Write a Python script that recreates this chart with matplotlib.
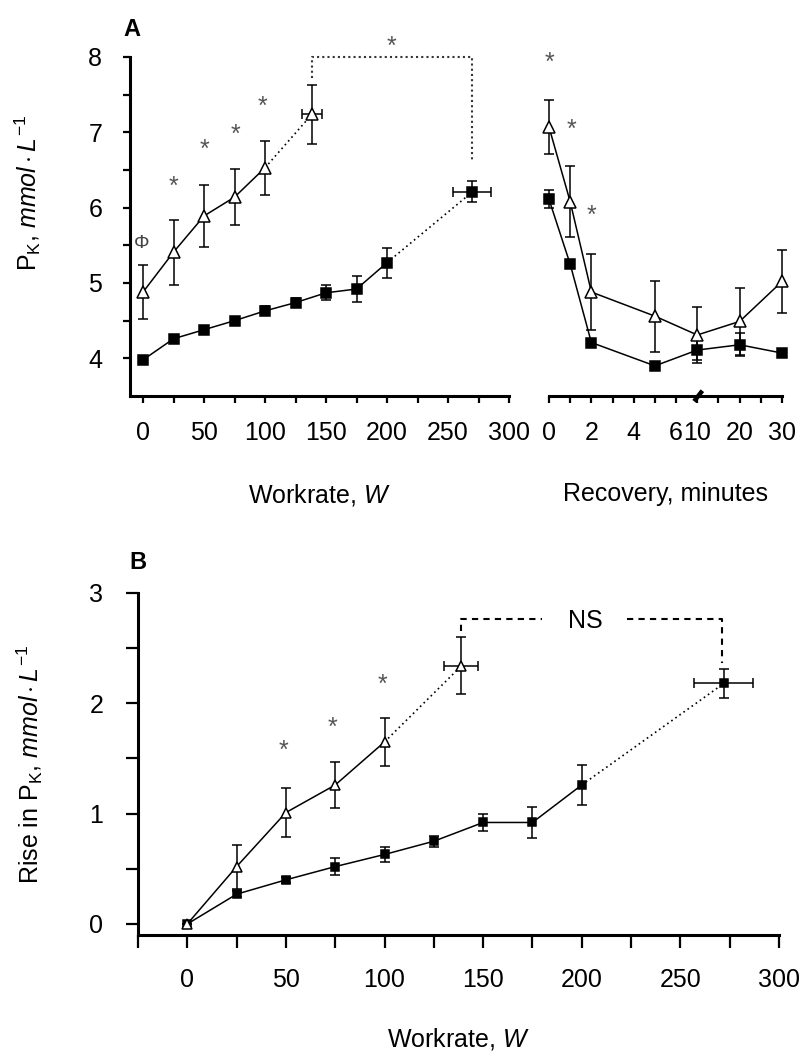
import numpy as np
import matplotlib
matplotlib.use("Agg")
import matplotlib.pyplot as plt
from matplotlib.ticker import FixedLocator, NullFormatter

plt.rcParams['font.family'] = ['Liberation Sans', 'DejaVu Sans']
plt.rcParams['mathtext.fontset'] = 'custom'
plt.rcParams['mathtext.rm'] = 'Liberation Sans'
plt.rcParams['mathtext.it'] = 'Liberation Sans:italic'
plt.rcParams['mathtext.bf'] = 'Liberation Sans:bold'

# ---- panel A, exercise ----
work_tri = [0, 25, 50, 75, 100]
pk_tri = [4.88, 5.41, 5.89, 6.14, 6.53]
pk_tri_err = [0.36, 0.43, 0.41, 0.37, 0.36]
peak_tri = (138.5, 8.6, 7.24, 0.39)       # W, W err, PK, PK err

work_sq = [0, 25, 50, 75, 100, 125, 150, 175, 200]
pk_sq = [3.98, 4.26, 4.38, 4.50, 4.63, 4.74, 4.87, 4.92, 5.27]
pk_sq_err = [0.03, 0.04, 0.04, 0.05, 0.06, 0.06, 0.10, 0.17, 0.20]
peak_sq = (270, 15.5, 6.21, 0.14)

stars_A = [(25, 6.28), (50, 6.77), (76, 6.97), (98, 7.34)]

# ---- panel A, recovery ----
rec_t = [0, 1, 2, 5, 10, 20, 30]
rec_tri = [7.07, 6.08, 4.88, 4.56, 4.31, 4.49, 5.02]
rec_tri_err = [0.36, 0.47, 0.50, 0.47, 0.37, 0.45, 0.42]
rec_sq = [6.11, 5.25, 4.21, 3.90, 4.11, 4.18, 4.07]
rec_sq_err = [0.12, 0.05, 0.04, 0.04, 0.13, 0.15, 0.04]
stars_rec = [(0, 7.92), (1.05, 7.03), (2.0, 5.89)]
rec_ticks = [0, 1, 2, 3, 4, 5, 6, 10, 15, 20, 25, 30]
rec_labels = [0, 2, 4, 6, 10, 20, 30]

# ---- panel B ----
rise_tri = [0, 0.52, 1.01, 1.26, 1.65]
rise_tri_err = [0, 0.20, 0.22, 0.21, 0.22]
peak_tri_B = (139, 8.6, 2.34, 0.26)
rise_sq = [0, 0.27, 0.40, 0.52, 0.63, 0.75, 0.92, 0.92, 1.26]
rise_sq_err = [0, 0.03, 0.03, 0.08, 0.07, 0.05, 0.08, 0.14, 0.18]
peak_sq_B = (272, 15, 2.18, 0.13)
stars_B = [(49, 1.57), (73.5, 1.78), (99, 2.17)]

FS = 18
LW = 1.1


def fwd(t):
    t = np.asarray(t, float)
    return np.where(t <= 6, t, np.where(t < 10, 6 + (t - 6) / 4, 7 + (t - 10) / 5))


def inv(p):
    p = np.asarray(p, float)
    return np.where(p <= 6, p, np.where(p < 7, 6 + (p - 6) * 4, 10 + (p - 7) * 5))


def series(ax, x, y, yerr, marker, ms, fill, ls="-"):
    ax.errorbar(x, y, yerr=yerr, fmt=marker, ms=ms, mfc=fill, mec="black", mew=1.1,
                color="black", ecolor="black", elinewidth=1.1, capsize=3.5, capthick=1.1,
                ls=ls, lw=LW, zorder=3, clip_on=False)


def peak(ax, x0, y0, p, marker, ms, fill):
    x, xe, y, ye = p
    ax.plot([x0, x], [y0, y], ls=(0, (1, 2)), color="black", lw=1.2, zorder=2)
    ax.errorbar([x], [y], xerr=[xe], yerr=[ye], fmt=marker, ms=ms, mfc=fill, mec="black",
                mew=1.1, ecolor="black", elinewidth=1.1, capsize=3.5, capthick=1.1, zorder=3,
                clip_on=False)


def style(ax, tick_len, pad):
    for s in ("top", "right"):
        ax.spines[s].set_visible(False)
    for s in ("left", "bottom"):
        ax.spines[s].set_linewidth(2.2)
    ax.tick_params(which="both", direction="out", length=tick_len, width=1.6,
                   labelsize=FS, pad=pad)


fig = plt.figure(figsize=(8.05, 10.57), dpi=100)
W, H = 805, 1057


def rect(x0, x1, y0, y1):
    return [x0 / W, 1 - y1 / H, (x1 - x0) / W, (y1 - y0) / H]


# ===== Panel A left =====
ax = fig.add_axes(rect(130, 509, 57, 396))
style(ax, 5, 13)
ax.set_xlim(-10.7, 300)
ax.set_ylim(3.5, 8)
ax.set_xticks(range(0, 301, 50))
ax.xaxis.set_minor_locator(FixedLocator(range(25, 300, 50)))
ax.set_yticks([4, 5, 6, 7, 8])
ax.yaxis.set_minor_locator(FixedLocator([4.5, 5.5, 6.5, 7.5]))
ax.tick_params(axis="y", pad=15)

series(ax, work_tri, pk_tri, pk_tri_err, "^", 8, "white")
peak(ax, work_tri[-1], pk_tri[-1], peak_tri, "^", 8, "white")
series(ax, work_sq, pk_sq, pk_sq_err, "s", 6.5, "black")
peak(ax, work_sq[-1], pk_sq[-1], peak_sq, "s", 6.5, "black")

for x, y in stars_A:
    ax.text(x, y, "*", fontsize=18, color="#555555", ha="center", va="center")
ax.text(-1, 5.52, "Φ", fontsize=14, color="#444444", ha="center", va="center")

# significance bracket between peaks
bx0, bx1 = peak_tri[0], peak_sq[0]
ax.plot([bx0, bx0, bx1, bx1], [7.72, 8.0, 8.0, 6.63], ls=(0, (1, 1.5)), color="#333333",
        lw=1.5, clip_on=False, zorder=2)
ax.text(204, 8.13, "*", fontsize=18, color="#555555", ha="center", va="center")

ax.set_xlabel("Workrate, $W$", fontsize=FS, labelpad=27)
ax.set_ylabel(r"P$_\mathrm{K}$, $mmol\cdot L^{-1}$", fontsize=FS)
ax.yaxis.set_label_coords(-0.23, 0.6)
ax.text(0.005, 1.08, "A", transform=ax.transAxes, fontsize=17, fontweight="bold",
        ha="center", va="center")

# ===== Panel A right (recovery) =====
ax2 = fig.add_axes(rect(549, 782, 57, 396))
ax2.set_xscale("function", functions=(fwd, inv))
style(ax2, 5, 13)
ax2.spines["left"].set_visible(False)
ax2.set_xlim(0, 30)
ax2.set_ylim(3.5, 8)
ax2.set_yticks([])
ax2.xaxis.set_major_locator(FixedLocator(rec_labels))
ax2.xaxis.set_minor_locator(FixedLocator([t for t in rec_ticks if t not in rec_labels]))
ax2.xaxis.set_minor_formatter(NullFormatter())
ax2.set_xticklabels([str(v) for v in rec_labels])

series(ax2, rec_t, rec_tri, rec_tri_err, "^", 8, "white")
series(ax2, rec_t, rec_sq, rec_sq_err, "s", 6.5, "black")
for x, y in stars_rec:
    ax2.text(x, y, "*", fontsize=18, color="#555555", ha="center", va="center")
# axis break mark at 10 min
ax2.plot([9.4, 11.2], [3.43, 3.57], color="black", lw=3.2, clip_on=False,
         solid_capstyle="butt", zorder=4)
ax2.set_xlabel("Recovery, minutes", fontsize=FS, labelpad=27)

# ===== Panel B =====
axb = fig.add_axes(rect(138, 779, 593, 935))
style(axb, 9, 15)
axb.set_xlim(-25, 300)
axb.set_ylim(-0.1, 3)
axb.set_xticks(range(0, 301, 50))
axb.xaxis.set_minor_locator(FixedLocator([-25, 25, 75, 125, 175, 225, 275]))
axb.set_yticks([0, 1, 2, 3])
axb.yaxis.set_minor_locator(FixedLocator([0.5, 1.5, 2.5]))
axb.tick_params(axis="y", pad=16)

series(axb, work_sq, rise_sq, rise_sq_err, "s", 6, "black")
peak(axb, work_sq[-1], rise_sq[-1], peak_sq_B, "s", 6, "black")
series(axb, work_tri, rise_tri, rise_tri_err, "^", 7.5, "white")
peak(axb, work_tri[-1], rise_tri[-1], peak_tri_B, "^", 7.5, "white")

for x, y in stars_B:
    axb.text(x, y, "*", fontsize=18, color="#555555", ha="center", va="center")

lx, rx = peak_tri_B[0], 271
dash = (0, (3, 2.5))
axb.plot([lx, lx, 180], [2.66, 2.76, 2.76], ls=dash, color="black", lw=1.5, clip_on=False)
axb.plot([223, rx, rx], [2.76, 2.76, 2.37], ls=dash, color="black", lw=1.5, clip_on=False)
axb.text(202, 2.75, "NS", fontsize=FS, ha="center", va="center")

axb.set_xlabel("Workrate, $W$", fontsize=FS, labelpad=24)
axb.set_ylabel(r"Rise in P$_\mathrm{K}$, $mmol\cdot L^{-1}$", fontsize=FS)
axb.yaxis.set_label_coords(-0.145, 0.5)
axb.text(0.0, 1.09, "B", transform=axb.transAxes, fontsize=17, fontweight="bold",
         ha="center", va="center")

fig.savefig("out.png", dpi=100)
